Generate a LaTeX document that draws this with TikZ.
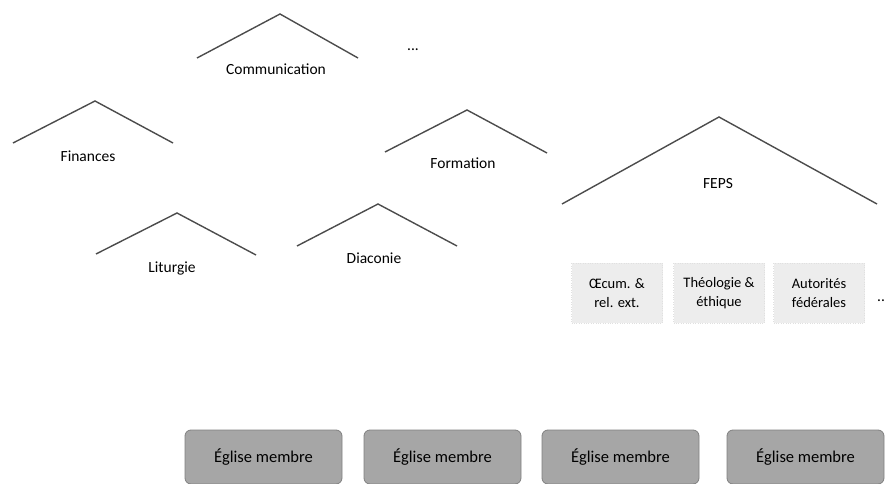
\documentclass[tikz,border=0pt]{standalone}
\usepackage{fontspec}
\setmainfont{Carlito}
\begin{document}
\begin{tikzpicture}[x=1pt,y=-1pt,
  roof/.style={draw=black!70,line width=1.4pt,line join=miter},
  lbl/.style={font=\fontsize{15.5}{17}\selectfont,inner sep=0pt},
  sub/.style={fill=black!7,draw=black!12,dotted,minimum width=91pt,minimum height=60pt,align=center,font=\fontsize{14.5}{19}\selectfont,inner sep=0pt},
  eglise/.style={rounded corners=6pt,fill=black!35,draw=black!50,line width=0.8pt,minimum width=157pt,minimum height=54pt,font=\fontsize{16.5}{18}\selectfont,inner sep=0pt}]
\useasboundingbox (0,0) rectangle (887,484);
% Communication
\draw[roof] (197,58) -- (280,14) -- (358,58);
\node[lbl] (comm) at (276,69) {Communication};
\node[lbl] (dots1) at (413,50) {...};
% Finances
\draw[roof] (13,143) -- (95,101) -- (173,143);
\node[lbl] (fin) at (88,156) {Finances};
% Formation
\draw[roof] (385,152) -- (467,110) -- (547,153);
\node[lbl] (form) at (463,163) {Formation};
% FEPS
\draw[roof] (562,204) -- (719,117) -- (877,204);
\node[lbl] (feps) at (718,184) {FEPS};
% Liturgie
\draw[roof] (96,254) -- (177,213) -- (256,255);
\node[lbl] (lit) at (172,268) {Liturgie};
% Diaconie
\draw[roof] (297,246) -- (378,204) -- (457,246);
\node[lbl] (dia) at (374,258) {Diaconie};
% sub-boxes
\node[sub] (oec) at (617,293) {Œcum. \&\\rel. ext.};
\node[sub] (theo) at (719,293) {Théologie \&\\éthique};
\node[sub] (aut) at (819,293) {Autorités\\fédérales};
\node[lbl,anchor=west] (dots2) at (877,301) {..};
% Eglise membre
\node[eglise] (e1) at (263.5,457) {Église membre};
\node[eglise] (e2) at (442.5,457) {Église membre};
\node[eglise] (e3) at (620.5,457) {Église membre};
\node[eglise] (e4) at (805.5,457) {Église membre};
\end{tikzpicture}
\end{document}
